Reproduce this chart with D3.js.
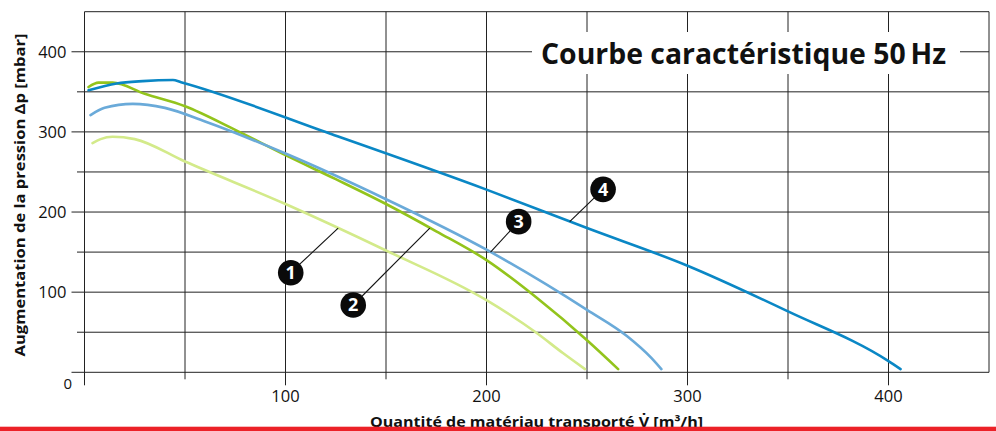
<!DOCTYPE html>
<html>
<head>
<meta charset="utf-8">
<script src="https://cdn.jsdelivr.net/npm/d3@7"></script>
<style>
  html, body { margin: 0; padding: 0; background: #fff; }
  svg { display: block; }
</style>
</head>
<body>
<svg id="chart" width="996" height="431"></svg>
<script>
// ---------- DATA ----------
const title = "Courbe caractéristique 50\u2009Hz";
const xTitle = "Quantité de matériau transporté V\u0307  [m³/h]";
const yTitle = "Augmentation de la pression Δp [mbar]";

const gridValues = [0, 50, 100, 150, 200, 250, 300, 350, 400, 450];
const majorTicks = [0, 100, 200, 300, 400];
const minorTicks = [50, 150, 250, 350];
const tickLabels = ["100", "200", "300", "400"];

const curve1 = [[4,286],[8,291],[14,294],[25,291],[50,263],[100,210],[150,152],[200,90],[225,49],[238,24],[249,4]];
const curve2 = [[2,356],[7,361.5],[14,361.5],[30,347.5],[50,332],[75,302.5],[100,271],[125,241],[150,210],[175,176],[200,140],[225,93],[250,40],[265.5,4]];
const curve3 = [[3,321],[10,330],[24,335],[40,330],[60,313],[100,273],[150,216],[200,153],[250,78],[270,45],[282,18],[287,4]];
const curve4 = [[2,352],[16,360.5],[29,363.4],[44,364.7],[48,362],[122,298],[200,228],[250,180],[300,133],[350,76],[400,14],[406,4]];

const seriesNames = ["1", "2", "3", "4"];
const seriesData = [curve1, curve2, curve3, curve4];
const seriesColors = ["#d3ea8a", "#93c41c", "#6aaad9", "#0a87c5"];

// callouts: label, target on curve [x,y], bubble center [x,y] (data units)
const calloutLabels = ["1", "2", "3", "4"];
const calloutTargets = [[126.2,180],[171.8,180],[202,150],[241.4,188]];
const calloutBubbles = [[102.6,124.3],[133.7,84],[216,188],[258,228.3]];

// ---------- DRAW ----------
const svg = d3.select("#chart");
const font = "'Open Sans', 'Noto Sans', sans-serif";

const x = d3.scaleLinear().domain([0, 450]).range([84.5, 989]);
const y = d3.scaleLinear().domain([0, 450]).range([372.3, 11.7]);

const grid = svg.append("g").attr("stroke", "#222").attr("stroke-width", 1).attr("fill", "none");

// horizontal grid lines (with tick extensions to the left)
grid.selectAll("line.h").data(gridValues).join("line")
  .attr("class", "h")
  .attr("x1", d => majorTicks.includes(d) ? x(0) - 13 : (minorTicks.includes(d) ? x(0) - 7.5 : x(0)))
  .attr("x2", x(450))
  .attr("y1", d => y(d)).attr("y2", d => y(d));

// vertical grid lines (with tick extensions below)
grid.selectAll("line.v").data(gridValues).join("line")
  .attr("class", "v")
  .attr("y1", d => majorTicks.includes(d) ? y(0) + 13 : (minorTicks.includes(d) ? y(0) + 7 : y(0)))
  .attr("y2", y(450))
  .attr("x1", d => x(d)).attr("x2", d => x(d));

// Tick labels
const yLab = svg.append("g").attr("font-family", font).attr("font-size", 16.5).attr("fill", "#111");
yLab.selectAll("text").data(majorTicks.slice(1)).join("text")
  .attr("x", x(0) - 18).attr("y", d => y(d))
  .attr("dy", "0.36em").attr("text-anchor", "end")
  .text((d, i) => tickLabels[i]);

const xLab = svg.append("g").attr("font-family", font).attr("font-size", 16.5).attr("fill", "#111");
xLab.selectAll("text").data(majorTicks.slice(1)).join("text")
  .attr("x", d => x(d)).attr("y", y(0) + 30)
  .attr("text-anchor", "middle")
  .text((d, i) => tickLabels[i]);

svg.append("text").attr("font-family", font).attr("font-size", 15).attr("fill", "#111")
  .attr("x", x(0) - 12.5).attr("y", y(0) + 17).attr("text-anchor", "end").text("0");

// Title with white background
svg.append("rect").attr("x", 532).attr("y", 32).attr("width", 428).attr("height", 42).attr("fill", "#fff");
svg.append("text").attr("font-family", font).attr("font-weight", 700).attr("font-size", 28)
  .attr("fill", "#111").attr("x", 541).attr("y", 64)
  .attr("textLength", 405).attr("lengthAdjust", "spacingAndGlyphs")
  .text(title);

// Curves
const line = d3.line().x(d => x(d[0])).y(d => y(d[1])).curve(d3.curveMonotoneX);
svg.append("g").selectAll("path").data(seriesData).join("path")
  .attr("d", line)
  .attr("fill", "none")
  .attr("stroke", (d, i) => seriesColors[i])
  .attr("stroke-width", 2.6)
  .attr("stroke-linecap", "round")
  .attr("stroke-linejoin", "round");

// Callouts
const co = svg.append("g");
co.selectAll("line").data(calloutLabels).join("line")
  .attr("x1", (d, i) => x(calloutBubbles[i][0])).attr("y1", (d, i) => y(calloutBubbles[i][1]))
  .attr("x2", (d, i) => x(calloutTargets[i][0])).attr("y2", (d, i) => y(calloutTargets[i][1]))
  .attr("stroke", "#111").attr("stroke-width", 1.1);
co.selectAll("circle").data(calloutLabels).join("circle")
  .attr("cx", (d, i) => x(calloutBubbles[i][0])).attr("cy", (d, i) => y(calloutBubbles[i][1]))
  .attr("r", 12.8).attr("fill", "#0a0a0a");
co.selectAll("text").data(calloutLabels).join("text")
  .attr("x", (d, i) => x(calloutBubbles[i][0])).attr("y", (d, i) => y(calloutBubbles[i][1]))
  .attr("dy", "0.36em").attr("text-anchor", "middle")
  .attr("font-family", font).attr("font-weight", 700).attr("font-size", 18).attr("fill", "#fff")
  .text(d => d);

// Axis titles
svg.append("text").attr("font-family", font).attr("font-weight", 700).attr("font-size", 14)
  .attr("fill", "#111")
  .attr("transform", "translate(25," + 195 + ") rotate(-90)")
  .attr("text-anchor", "middle")
  .attr("textLength", 323).attr("lengthAdjust", "spacingAndGlyphs")
  .text(yTitle);

svg.append("text").attr("font-family", font).attr("font-weight", 700).attr("font-size", 14)
  .attr("fill", "#111")
  .attr("x", 536.5).attr("y", 426.5).attr("text-anchor", "middle")
  .attr("textLength", 333).attr("lengthAdjust", "spacingAndGlyphs")
  .text(xTitle);

// Red bottom bar
svg.append("rect").attr("x", 0).attr("y", 426.7).attr("width", 996).attr("height", 5).attr("fill", "#ec2128");
</script>
</body>
</html>
